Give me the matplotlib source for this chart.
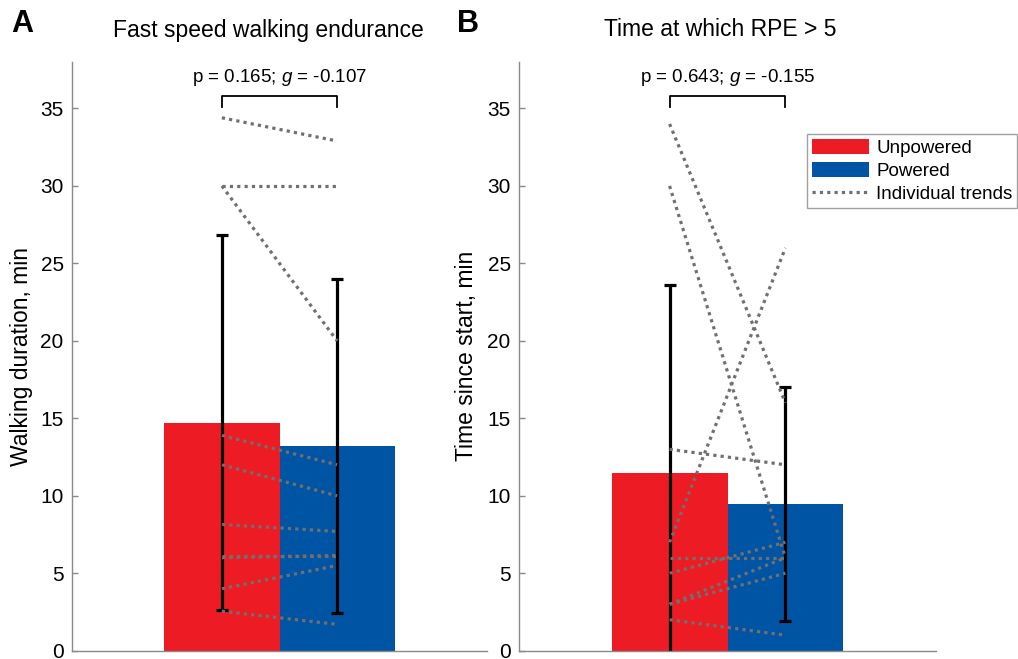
import numpy as np
import matplotlib
matplotlib.use("Agg")
import matplotlib.pyplot as plt
from matplotlib.patches import Patch
from matplotlib.lines import Line2D

plt.rcParams['font.family'] = ['Liberation Sans', 'DejaVu Sans']
plt.rcParams['mathtext.fontset'] = 'custom'
plt.rcParams['mathtext.rm'] = 'Liberation Sans'
plt.rcParams['mathtext.it'] = 'Liberation Sans:italic'

# ---------------- data ----------------
conditions = ["Unpowered", "Powered"]

# Panel A: fast speed walking endurance (min), per participant
endurance_unpowered = [34.4, 30.0, 30.0, 13.9, 12.0, 8.15, 6.1, 6.0, 4.0, 2.55]
endurance_powered = [32.9, 30.0, 20.0, 12.0, 10.0, 7.7, 6.1, 6.15, 5.5, 1.7]

# Panel B: time at which RPE > 5 (min), per participant
rpe_unpowered = [34.0, 30.0, 13.0, 7.0, 6.0, 5.0, 3.0, 3.0, 2.0]
rpe_powered = [16.0, 6.0, 12.0, 26.0, 6.0, 7.0, 6.0, 5.0, 1.0]

titles = ["Fast speed walking endurance", "Time at which RPE > 5"]
ylabels = ["Walking duration, min", "Time since start, min"]
stats_text = ["p = 0.165; $\\mathit{g}$ = -0.107", "p = 0.643; $\\mathit{g}$ = -0.155"]
panel_letters = ["A", "B"]
yticks = [0, 5, 10, 15, 20, 25, 30, 35]

# ---------------- style ----------------
RED = '#ED1C24'
BLUE = '#0054A4'
DOT = '#707070'
SPINE = '#8a8a8a'
dotstyle = (0, (1, 1.3))

W, H = 1018, 659
fig = plt.figure(figsize=(W / 100, H / 100), dpi=100)

axes_px = [(72, 415), (519, 417)]  # left, width in pixels
top_px, bottom_px = 62, 650.7

datasets = [(endurance_unpowered, endurance_powered), (rpe_unpowered, rpe_powered)]
title_centers = [268, 720]
letter_x = [11, 457]
ylabel_x = [-0.094, -0.098]

for i, (unp, pw) in enumerate(datasets):
    left, width = axes_px[i]
    ax = fig.add_axes([left / W, (H - bottom_px) / H, width / W, (bottom_px - top_px) / H])
    unp = np.array(unp)
    pw = np.array(pw)
    means = [unp.mean(), pw.mean()]
    sds = [unp.std(ddof=1), pw.std(ddof=1)]
    x = np.array([1, 2])
    ax.bar(x, means, width=1.0, color=[RED, BLUE], linewidth=0, zorder=1)
    ax.errorbar(x, means, yerr=sds, fmt='none', ecolor='black', elinewidth=2.3,
                capsize=4.0, capthick=2.3, zorder=2)
    for a, b in zip(unp, pw):
        ax.plot(x, [a, b], color=DOT, lw=2.3, linestyle=dotstyle, zorder=3,
                dash_capstyle='butt')
    # significance bracket
    ax.plot([1, 1, 2, 2], [35.1, 35.8, 35.8, 35.1], color='black', lw=1.3,
            clip_on=False, zorder=4)
    ax.text(1.5, 37.0, stats_text[i], ha='center', va='center', fontsize=13.5)

    ax.set_xlim(-0.3, 3.3)
    ax.set_ylim(0, 38)
    ax.set_yticks(yticks)
    ax.set_xticks([])
    ax.tick_params(axis='y', direction='in', length=4.5, width=1.0, color=SPINE,
                   labelsize=15, pad=6)
    for s in ['top', 'right']:
        ax.spines[s].set_visible(False)
    for s in ['left', 'bottom']:
        ax.spines[s].set_color(SPINE)
        ax.spines[s].set_linewidth(1.0)
    ax.set_ylabel(ylabels[i], fontsize=16.5)
    ax.yaxis.set_label_coords(ylabel_x[i], 0.5)

    fig.text(title_centers[i] / W, 1 - 30 / H, titles[i], ha='center', va='center',
             fontsize=16.5)
    fig.text(letter_x[i] / W, 1 - 24 / H, panel_letters[i], ha='left', va='center',
             fontsize=22, fontweight='bold')

handles = [Patch(facecolor=RED, edgecolor='none', label=conditions[0]),
           Patch(facecolor=BLUE, edgecolor='none', label=conditions[1]),
           Line2D([], [], color=DOT, lw=2.3, linestyle=dotstyle, label='Individual trends')]
leg = fig.legend(handles=handles, loc='upper right', bbox_to_anchor=(1017 / W, 1 - 134 / H),
                 borderaxespad=0, fontsize=13.5, frameon=True, fancybox=False,
                 handlelength=3.05, handleheight=0.9, handletextpad=0.37,
                 labelspacing=0.25, borderpad=0.25)
leg.get_frame().set_edgecolor('#8a8a8a')
leg.get_frame().set_linewidth(1.0)

fig.savefig('out.png', dpi=100)
